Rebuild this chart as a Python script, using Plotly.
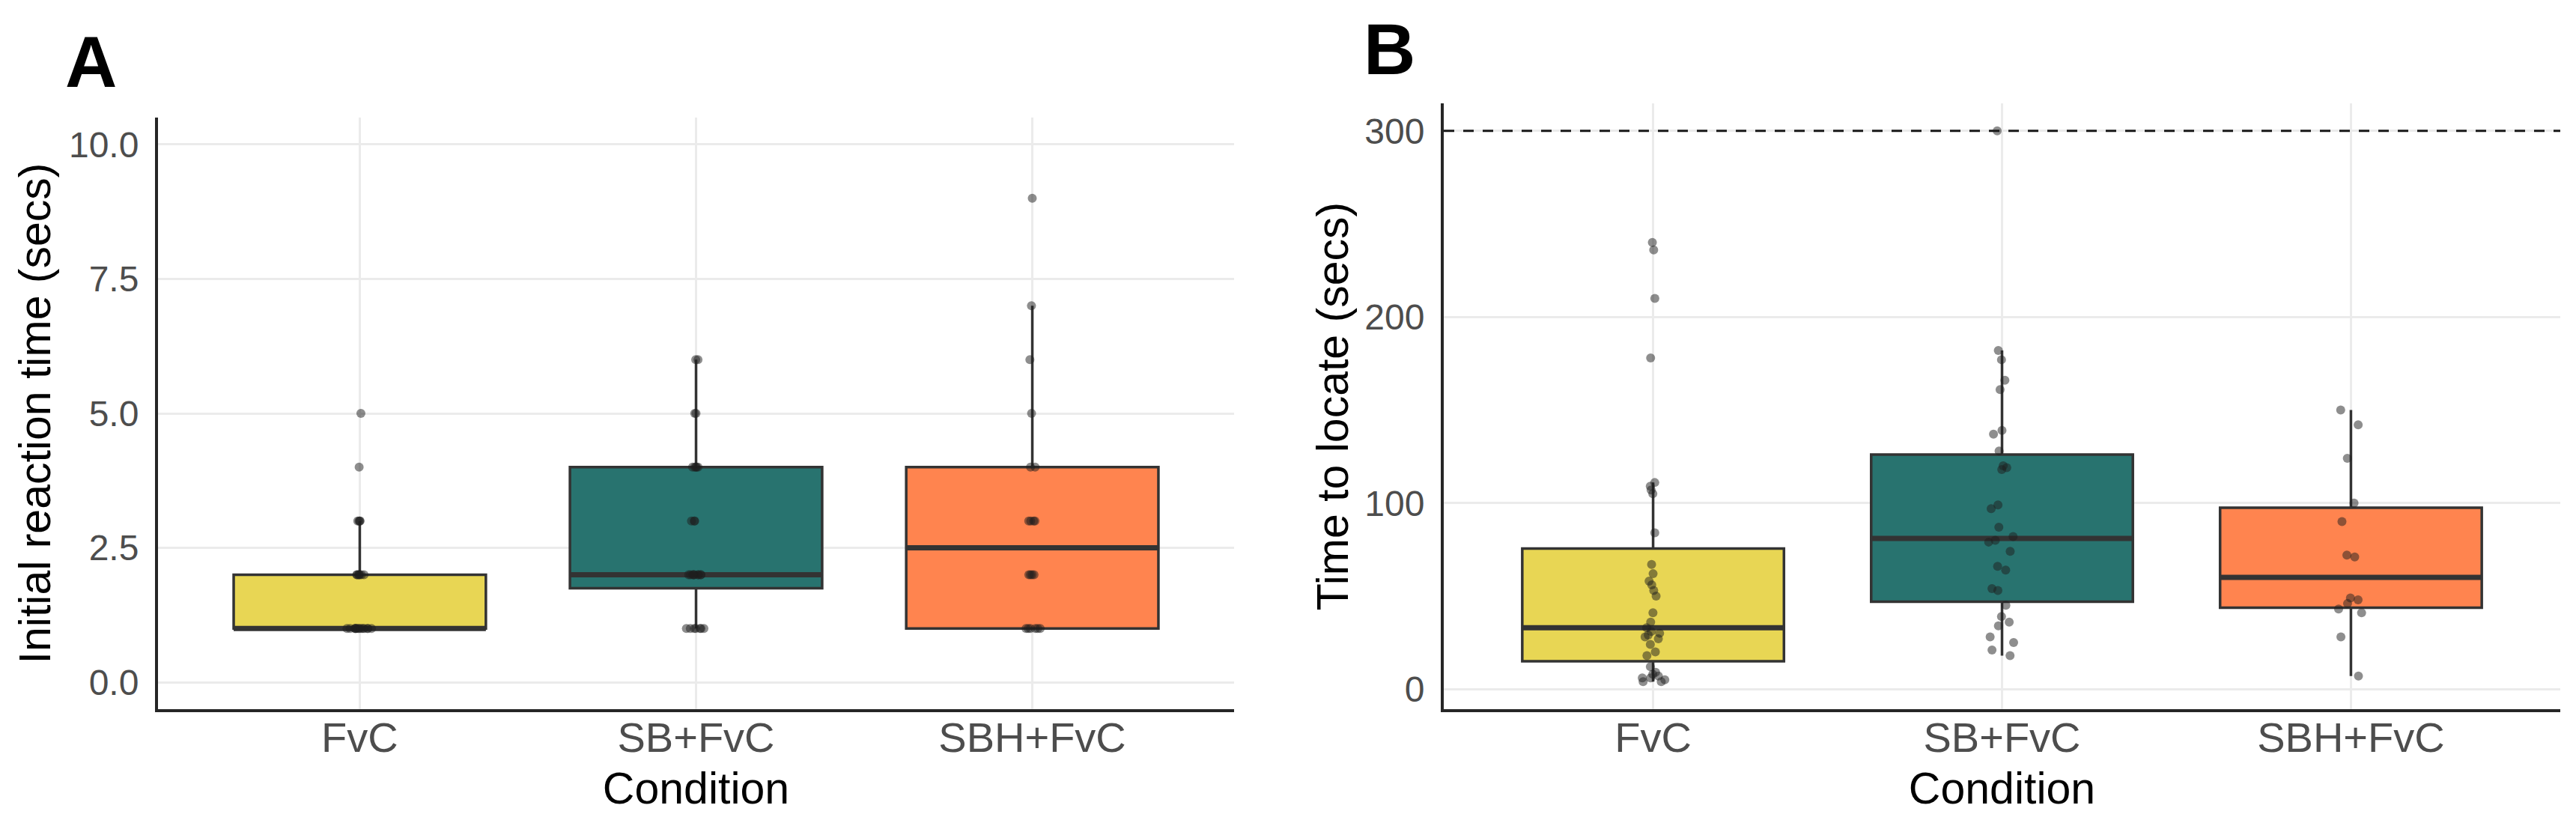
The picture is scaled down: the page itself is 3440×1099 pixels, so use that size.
import numpy as np
import plotly.graph_objects as go
from plotly.subplots import make_subplots

# groups in plotting order
conditions = ['FvC', 'SB+FvC', 'SBH+FvC']
fill_colors = ['#E8D654', '#28736F', '#FF844F']

# A: initial reaction time (secs), whole seconds
reaction_fvc = [1, 1, 1, 1, 1, 1, 1, 1, 1, 1, 1, 1, 1, 1,
                2, 2, 2, 2, 2, 2, 2, 3, 3, 3, 3, 4, 5]
reaction_sb = [1, 1, 1, 1, 1, 1, 1, 2, 2, 2, 2, 2, 2, 2, 2, 2,
               3, 3, 3, 4, 4, 4, 4, 4, 5, 5, 6, 6]
reaction_sbh = [1, 1, 1, 1, 1, 1, 2, 2, 2, 2, 3, 3, 3, 3,
                4, 4, 5, 6, 7, 9]

# B: time to locate (secs)
locate_fvc = [4, 4, 5, 6, 6, 7, 8, 9, 12, 18, 20, 24, 27, 28, 29, 30, 31,
              33, 36, 41, 50, 53, 56, 58, 62, 67, 84, 105, 107, 109, 111,
              178, 210, 236, 240]
locate_sb = [18, 21, 25, 28, 34, 36, 39, 45, 53, 54, 64, 66, 74, 79, 80,
             82, 87, 97, 99, 118, 119, 120, 128, 137, 139, 161, 166, 177,
             182, 300]
locate_sbh = [7, 28, 41, 43, 46, 48, 49, 71, 72, 90, 100, 124, 142, 150]

time_limit = 300
reaction_limits = [0, 10]

FONT = 'Liberation Sans, Arial, sans-serif'
BOX_LINE = '#333333'


def box_stats(vals):
    # ggplot-style quartiles (type 7) and 1.5*IQR whiskers
    v = np.asarray(vals, dtype=float)
    q1, med, q3 = np.percentile(v, [25, 50, 75])
    iqr = q3 - q1
    lo = v[v >= q1 - 1.5 * iqr].min()
    hi = v[v <= q3 + 1.5 * iqr].max()
    return q1, med, q3, lo, hi


fig = make_subplots(rows=1, cols=2)

panels = [
    (1, [reaction_fvc, reaction_sb, reaction_sbh]),
    (2, [locate_fvc, locate_sb, locate_sbh]),
]

for col, groups in panels:
    for cond, vals, color in zip(conditions, groups, fill_colors):
        q1, med, q3, lo, hi = box_stats(vals)
        fig.add_trace(go.Box(
            x=[cond], q1=[q1], median=[med], q3=[q3],
            lowerfence=[lo], upperfence=[hi],
            width=0.75, fillcolor=color, whiskerwidth=0,
            line=dict(color=BOX_LINE, width=3.5),
            boxpoints=False, hoverinfo='skip', showlegend=False,
        ), row=1, col=col)
        # thicker median bar, like ggplot's fatten
        fig.add_trace(go.Box(
            x=[cond], q1=[med], median=[med], q3=[med],
            lowerfence=[med], upperfence=[med],
            width=0.75, fillcolor='rgba(0,0,0,0)', whiskerwidth=0,
            line=dict(color=BOX_LINE, width=7),
            boxpoints=False, hoverinfo='skip', showlegend=False,
        ), row=1, col=col)
    # jittered raw points on top
    for cond, vals in zip(conditions, groups):
        fig.add_trace(go.Box(
            x=[cond] * len(vals), y=vals,
            boxpoints='all', jitter=0.12, pointpos=0, width=0.75,
            fillcolor='rgba(0,0,0,0)',
            line=dict(color='rgba(0,0,0,0)', width=0),
            marker=dict(color='rgba(30,30,30,0.5)', size=12,
                        line=dict(width=0)),
            showlegend=False,
        ), row=1, col=col)

# dashed cut-off line in B
fig.add_hline(y=time_limit, line=dict(color='#1a1a1a', width=3, dash='14px,12px'),
              row=1, col=2)

# y ranges with ggplot's 5% expansion
lo_a, hi_a = reaction_limits
pad_a = 0.05 * (hi_a - lo_a)
all_b = locate_fvc + locate_sb + locate_sbh + [time_limit]
lo_b, hi_b = min(all_b), max(all_b)
pad_b = 0.05 * (hi_b - lo_b)

W, H = 3440, 1099

axis_common = dict(
    showline=True, linecolor='#262626', linewidth=4,
    showgrid=True, gridcolor='#EBEBEB', gridwidth=3,
    zeroline=False, ticks='',
)

fig.update_xaxes(
    **axis_common,
    categoryorder='array', categoryarray=conditions,
    range=[-0.6, 2.6],
    tickfont=dict(family=FONT, size=56, color='#4D4D4D'),
    ticklabelstandoff=-14,
    title=dict(text='Condition', font=dict(family=FONT, size=59, color='black'),
               standoff=17),
)
fig.update_yaxes(**axis_common,
                 tickfont=dict(family=FONT, size=48, color='#4D4D4D'),
                 ticklabelstandoff=12)

fig.update_layout(
    width=W, height=H,
    margin=dict(l=0, r=0, t=0, b=0),
    paper_bgcolor='white', plot_bgcolor='white',
    boxmode='overlay',
    font=dict(family=FONT),
    xaxis=dict(domain=[203 / W, 1640 / W]),
    xaxis2=dict(domain=[1920 / W, 3411 / W]),
    yaxis=dict(
        domain=[(H - 939) / H, (H - 149) / H],
        range=[lo_a - pad_a, hi_a + pad_a],
        tickvals=[0, 2.5, 5, 7.5, 10], tickformat='.1f',
        title=dict(text='Initial reaction time (secs)',
                   font=dict(family=FONT, size=59, color='black'), standoff=6),
    ),
    yaxis2=dict(
        domain=[(H - 939) / H, (H - 130) / H],
        range=[lo_b - pad_b, hi_b + pad_b],
        tickvals=[0, 100, 200, 300],
        title=dict(text='Time to locate (secs)',
                   font=dict(family=FONT, size=59, color='black'), standoff=4),
    ),
)

# panel letters
for letter, px_x, px_y in [('A', 114, 74), ('B', 1847, 57)]:
    fig.add_annotation(
        text='<b>%s</b>' % letter, xref='paper', yref='paper',
        x=px_x / W, y=1 - px_y / H, xanchor='center', yanchor='middle',
        showarrow=False, font=dict(family=FONT, size=96, color='black'),
    )

fig.write_html('out.html')
